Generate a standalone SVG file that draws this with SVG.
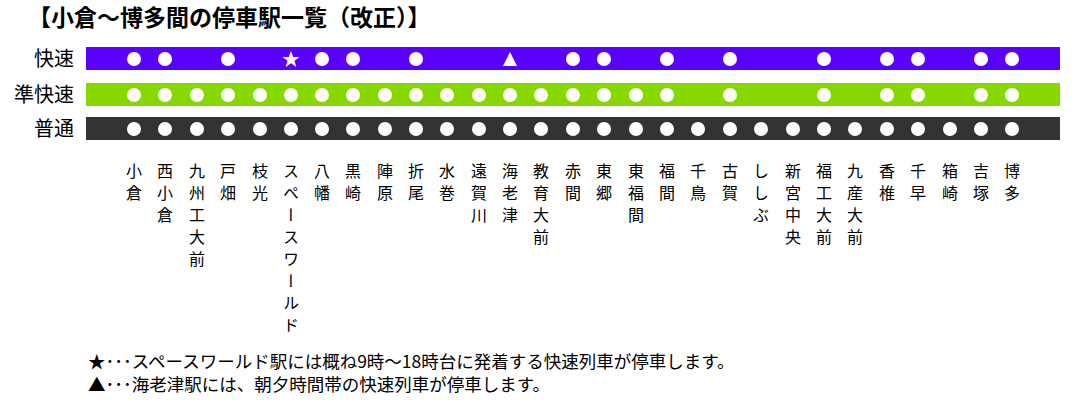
<svg xmlns="http://www.w3.org/2000/svg" width="1074" height="400" viewBox="0 0 1074 400">
<style>
text{font-family:"Noto Sans CJK JP","Liberation Sans",sans-serif;fill:#000}
.t{font-size:23px;font-weight:bold}
.r{font-size:20px;text-anchor:end}
.s{font-size:16px;writing-mode:tb;letter-spacing:6px}
.f{font-size:17.5px}
.d{fill:#fff}
</style>
<rect width="1074" height="400" fill="#fff"/>
<text class="t" x="28" y="26">【小倉～博多間の停車駅一覧（改正）】</text>
<g id="rapid"><rect x="86" y="47" width="974" height="23" fill="#5a00ff"/><text class="r" x="74" y="66">快速</text>
<g class="d"><circle cx="134" cy="59" r="7"/><circle cx="165" cy="59" r="7"/><circle cx="228" cy="59" r="7"/><circle cx="322" cy="59" r="7"/><circle cx="353" cy="59" r="7"/><circle cx="416" cy="59" r="7"/><circle cx="573" cy="59" r="7"/><circle cx="604" cy="59" r="7"/><circle cx="667" cy="59" r="7"/><circle cx="730" cy="59" r="7"/><circle cx="824" cy="59" r="7"/><circle cx="887" cy="59" r="7"/><circle cx="918" cy="59" r="7"/><circle cx="981" cy="59" r="7"/><circle cx="1012" cy="59" r="7"/>
<polygon points="291,51 293.2,57 299.5,57 294.5,60.8 296.3,67 291,63.3 285.7,67 287.5,60.8 282.5,57 288.8,57"/>
<polygon points="510,52 517,66 503,66"/></g></g>
<g id="semirapid"><rect x="86" y="83" width="974" height="23" fill="#88d800"/><text class="r" x="74" y="102">準快速</text>
<g class="d"><circle cx="134" cy="95" r="7"/><circle cx="165" cy="95" r="7"/><circle cx="197" cy="95" r="7"/><circle cx="228" cy="95" r="7"/><circle cx="260" cy="95" r="7"/><circle cx="291" cy="95" r="7"/><circle cx="322" cy="95" r="7"/><circle cx="353" cy="95" r="7"/><circle cx="385" cy="95" r="7"/><circle cx="416" cy="95" r="7"/><circle cx="447" cy="95" r="7"/><circle cx="479" cy="95" r="7"/><circle cx="510" cy="95" r="7"/><circle cx="541" cy="95" r="7"/><circle cx="573" cy="95" r="7"/><circle cx="604" cy="95" r="7"/><circle cx="636" cy="95" r="7"/><circle cx="667" cy="95" r="7"/><circle cx="730" cy="95" r="7"/><circle cx="824" cy="95" r="7"/><circle cx="887" cy="95" r="7"/><circle cx="918" cy="95" r="7"/><circle cx="981" cy="95" r="7"/><circle cx="1012" cy="95" r="7"/></g></g>
<g id="local"><rect x="86" y="117" width="974" height="23" fill="#333"/><text class="r" x="74" y="136">普通</text>
<g class="d"><circle cx="134" cy="129" r="7"/><circle cx="165" cy="129" r="7"/><circle cx="197" cy="129" r="7"/><circle cx="228" cy="129" r="7"/><circle cx="260" cy="129" r="7"/><circle cx="291" cy="129" r="7"/><circle cx="322" cy="129" r="7"/><circle cx="353" cy="129" r="7"/><circle cx="385" cy="129" r="7"/><circle cx="416" cy="129" r="7"/><circle cx="447" cy="129" r="7"/><circle cx="479" cy="129" r="7"/><circle cx="510" cy="129" r="7"/><circle cx="541" cy="129" r="7"/><circle cx="573" cy="129" r="7"/><circle cx="604" cy="129" r="7"/><circle cx="636" cy="129" r="7"/><circle cx="667" cy="129" r="7"/><circle cx="698" cy="129" r="7"/><circle cx="730" cy="129" r="7"/><circle cx="761" cy="129" r="7"/><circle cx="793" cy="129" r="7"/><circle cx="824" cy="129" r="7"/><circle cx="855" cy="129" r="7"/><circle cx="887" cy="129" r="7"/><circle cx="918" cy="129" r="7"/><circle cx="950" cy="129" r="7"/><circle cx="981" cy="129" r="7"/><circle cx="1012" cy="129" r="7"/></g></g>
<g id="stations">
<text class="s" x="134" y="163">小倉</text><text class="s" x="165" y="163">西小倉</text><text class="s" x="197" y="163">九州工大前</text><text class="s" x="228" y="163">戸畑</text><text class="s" x="260" y="163">枝光</text><text class="s" x="291" y="163">スペースワールド</text><text class="s" x="322" y="163">八幡</text><text class="s" x="353" y="163">黒崎</text><text class="s" x="385" y="163">陣原</text><text class="s" x="416" y="163">折尾</text><text class="s" x="447" y="163">水巻</text><text class="s" x="479" y="163">遠賀川</text><text class="s" x="510" y="163">海老津</text><text class="s" x="541" y="163">教育大前</text><text class="s" x="573" y="163">赤間</text><text class="s" x="604" y="163">東郷</text><text class="s" x="636" y="163">東福間</text><text class="s" x="667" y="163">福間</text><text class="s" x="698" y="163">千鳥</text><text class="s" x="730" y="163">古賀</text><text class="s" x="761" y="163">ししぶ</text><text class="s" x="793" y="163">新宮中央</text><text class="s" x="824" y="163">福工大前</text><text class="s" x="855" y="163">九産大前</text><text class="s" x="887" y="163">香椎</text><text class="s" x="918" y="163">千早</text><text class="s" x="950" y="163">箱崎</text><text class="s" x="981" y="163">吉塚</text><text class="s" x="1012" y="163">博多</text>
</g>
<text class="f" x="88" y="368">★･･･スペースワールド駅には概ね9時～18時台に発着する快速列車が停車します。</text>
<text class="f" x="88" y="391">▲･･･海老津駅には、朝夕時間帯の快速列車が停車します。</text>
</svg>
